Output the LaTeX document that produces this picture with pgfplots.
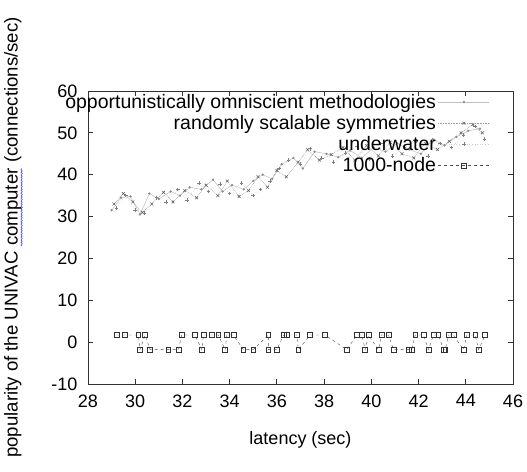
\documentclass[border=0pt]{standalone}
\usepackage{fontspec}
\setmainfont{Liberation Sans}
\usepackage{pgfplots}
\pgfplotsset{compat=1.18}
\usetikzlibrary{decorations.pathmorphing}
\newcommand\bluewave[1]{\tikz[baseline=(w.base)]{\node[inner sep=0pt, outer sep=0pt](w){#1};
  \draw[blue!80, line width=0.5pt, decorate, decoration={snake, amplitude=0.7pt, segment length=2.6pt}]
    ([yshift=-4pt]w.base west) -- ([yshift=-4pt]w.base east);}}

\begin{document}
\begin{tikzpicture}
\begin{axis}[
  name=ax,
  width=425pt, height=293pt, scale only axis,
  xmin=28, xmax=46, ymin=-10, ymax=60,
  xtick={28,30,...,46}, ytick={-10,0,...,60},
  tick align=inside, major tick length=5pt,
  axis line style={black!80, line width=0.8pt},
  every tick/.style={black!80, line width=0.8pt},
  font=\fontsize{18}{20}\selectfont,
  /pgf/number format/assume math mode=true,
  xticklabel style={yshift=-7pt},
  yticklabel style={xshift=-7pt},
  xlabel={latency (sec)},
  ylabel={popularity of the UNIVAC \bluewave{computer} (connections/sec)},
  xlabel style={yshift=-17pt},
  ylabel style={yshift=22pt, font=\fontsize{18.6}{20}\selectfont},
  legend style={draw=none, fill=none, at={(1,1)}, anchor=north east,
    xshift=-23pt, yshift=-1pt, inner sep=0pt, row sep=1.5pt,
    font=\fontsize{19.5}{21}\selectfont},
  legend cell align=right, legend plot pos=right,
  legend image code/.code={\draw[mark repeat=2,mark phase=2] plot coordinates {(0cm,0cm) (0.9cm,0cm) (1.8cm,0cm)};},
]
\addplot[black!25, line width=0.5pt, mark=*, mark size=0.9pt, mark options={black!45}] coordinates {
(29.0,31.5) (29.4,34.5) (29.8,34.8) (30.2,30.5) (30.6,35.5) (31.0,34.2) (31.5,36.0)
(31.9,35.0) (32.3,37.0) (32.8,36.5) (33.3,38.8) (33.7,36.0) (34.1,37.5) (34.6,36.5)
(35.0,38.5) (35.4,40.0) (35.8,39.0) (36.2,42.5) (36.7,44.0) (37.1,41.5) (37.6,45.5)
(38.1,45.0) (38.6,44.2) (39.1,45.8) (39.6,44.0) (40.1,46.5) (40.6,45.5) (41.1,47.5)
(41.6,46.0) (42.1,45.0) (42.6,48.5) (43.1,47.0) (43.6,49.0) (44.1,50.5) (44.6,51.0)
};
\addlegendentry{opportunistically omniscient methodologies}
\addplot[black!40, densely dotted, line width=0.6pt, mark=x, mark size=2pt, mark options={solid, black!60}] coordinates {
(29.1,33.0) (29.5,35.5) (29.9,33.5) (30.3,31.0) (30.7,33.0) (31.2,35.8) (31.6,33.5)
(32.1,36.2) (32.6,34.5) (33.0,37.5) (33.5,35.0) (33.9,38.5) (34.4,34.8) (34.8,36.2)
(35.2,39.5) (35.6,37.0) (36.0,41.0) (36.4,39.5) (36.9,43.0) (37.3,46.0) (37.8,43.5)
(38.3,44.8) (38.8,46.5) (39.3,43.5) (39.8,47.0) (40.3,44.5) (40.8,47.8) (41.3,45.0)
(41.8,44.0) (42.3,47.5) (42.8,46.0) (43.3,48.0) (43.8,50.0) (44.3,52.0) (44.7,50.0)
};
\addlegendentry{randomly scalable symmetries}
\addplot[black!20, dotted, line width=0.6pt, mark=+, mark size=1.8pt, mark options={solid, black!50}] coordinates {
(29.2,32.0) (29.6,35.0) (30.0,31.5) (30.4,30.8) (30.9,34.5) (31.3,33.5) (31.8,36.5)
(32.2,34.0) (32.7,38.0) (33.1,36.0) (33.6,37.8) (34.0,35.5) (34.5,38.0) (35.0,35.0)
(35.3,36.5) (35.7,38.5) (36.1,41.5) (36.5,43.5) (37.0,42.5) (37.4,46.2) (37.9,44.0)
(38.4,43.0) (38.9,45.2) (39.4,46.8) (39.9,43.8) (40.4,47.5) (40.9,44.5) (41.4,46.5)
(41.9,48.0) (42.4,44.5) (42.9,47.5) (43.4,46.5) (43.9,49.5) (44.4,51.5) (44.8,48.5)
};
\addlegendentry{underwater}
\addplot[black!70, dashed, line width=0.4pt, mark=square, mark size=2.4pt, mark options={solid, black!80, line width=0.6pt}] coordinates {
(29.21,1.7) (29.57,1.7) (30.13,1.7) (30.20,-1.8) (30.42,1.7) (30.63,-1.8) (31.40,-1.8)
(31.83,-1.8) (31.97,1.7) (32.53,1.7) (32.82,-1.8) (32.89,1.7) (33.24,1.7) (33.52,1.7)
(33.81,-1.8) (33.88,1.7) (34.16,1.7) (34.58,-1.8) (35.00,-1.8) (35.64,1.7) (35.64,-1.8)
(36.00,-1.8) (36.28,1.7) (36.42,1.7) (36.84,1.7) (36.91,-1.8) (37.41,1.7) (38.04,1.7)
(38.96,-1.8) (39.39,1.7) (39.60,1.7) (39.74,-1.8) (39.88,1.7) (40.30,-1.8) (40.44,1.7)
(40.73,1.7) (40.94,-1.8) (41.57,-1.8) (41.71,-1.8) (41.86,1.7) (42.21,1.7) (42.42,-1.8)
(42.63,1.7) (42.84,1.7) (43.06,-1.8) (43.13,-1.8) (43.27,1.7) (43.48,1.7) (43.90,-1.8)
(44.05,1.7) (44.40,1.7) (44.54,-1.8) (44.82,1.7)
};
\addlegendentry{1000-node}
\end{axis}
\path ([xshift=-88pt,yshift=-88pt]ax.south west) rectangle ([xshift=14pt,yshift=91pt]ax.north east);
\end{tikzpicture}
\end{document}
